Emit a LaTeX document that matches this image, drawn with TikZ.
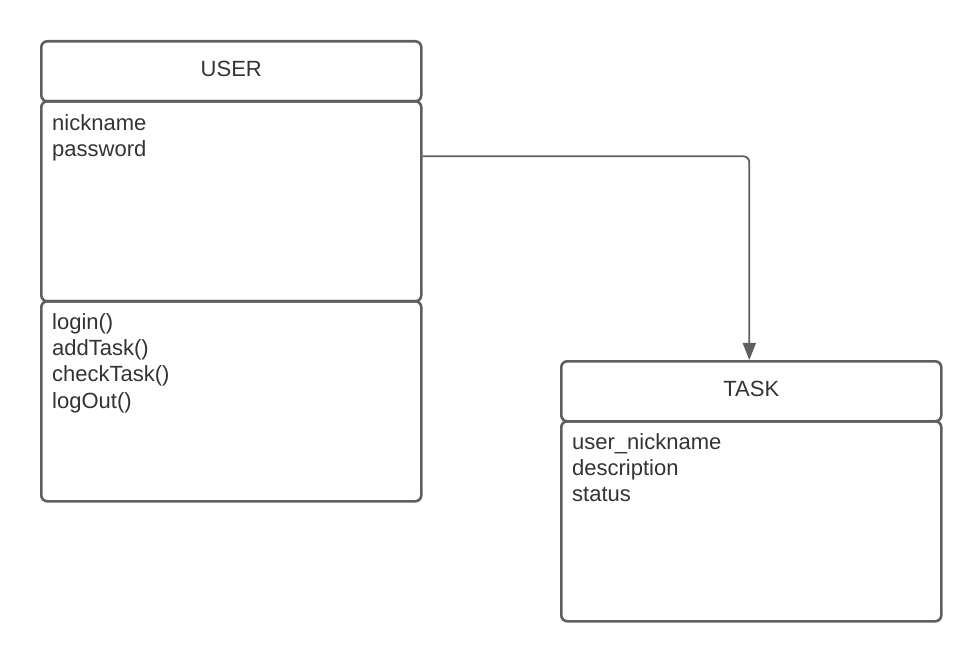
\documentclass[tikz,border=0pt]{standalone}
\usepackage{fontspec}
\setmainfont{Liberation Sans}
\usetikzlibrary{arrows.meta}
\definecolor{umlline}{HTML}{5F5F5F}
\definecolor{umltext}{HTML}{333333}
\begin{document}
\begin{tikzpicture}[x=1pt,y=-1pt,
  part/.style={draw=umlline, line width=2.6pt, rounded corners=6pt,
    minimum width=380pt, inner sep=0pt, anchor=north west},
  label/.style={text=umltext, font=\fontsize{22}{26.3}\selectfont,
    inner sep=0pt, anchor=north west, align=left},
  title/.style={text=umltext, font=\fontsize{22}{26}\selectfont, inner sep=0pt},
  link/.style={draw=umlline, line width=1.8pt, rounded corners=6pt,
    -{Triangle[width=13pt,length=17pt]}}]
  \useasboundingbox (0,0) rectangle (980,660);

  % USER class
  \node[part, minimum height=60pt]  (uhead) at (40,40)  {};
  \node[part, minimum height=200pt] (uattr) at (40,100) {};
  \node[part, minimum height=200pt] (uops)  at (40,300) {};
  \node[title] (utitle) at ([yshift=2pt]uhead.center) {USER};
  \node[label] (uattrtext) at (52,114) {nickname\\password};
  \node[label] (uopstext)  at (52,313) {login()\\addTask()\\checkTask()\\logOut()};

  % TASK class
  \node[part, minimum height=60pt]  (thead) at (560,360) {};
  \node[part, minimum height=200pt] (tattr) at (560,420) {};
  \node[title] (ttitle) at ([yshift=2pt]thead.center) {TASK};
  \node[label] (tattrtext) at (572,433) {user\_nickname\\description\\status};

  % association USER -> TASK
  \coordinate (ustart) at ([yshift=45pt]uattr.east);
  \draw[link] (ustart) -| ([xshift=-2pt]thead.north);
\end{tikzpicture}
\end{document}
